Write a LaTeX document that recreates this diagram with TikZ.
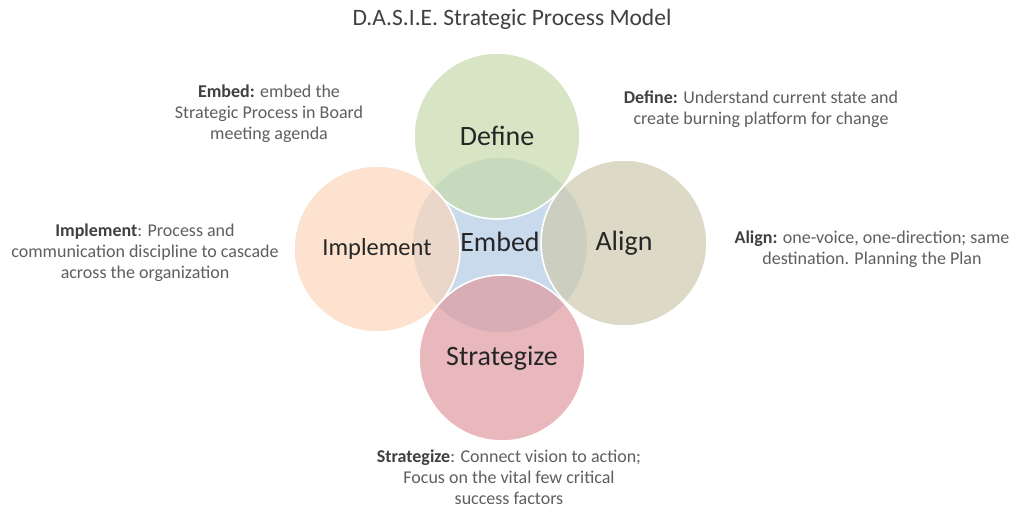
\documentclass[tikz,border=0pt]{standalone}
\usepackage{fontspec}
\setmainfont{Carlito}
\definecolor{embedblue}{RGB}{200,218,235}
\definecolor{definegreen}{RGB}{199,219,171}
\definecolor{implpeach}{RGB}{251,214,188}
\definecolor{alignbeige}{RGB}{206,202,174}
\definecolor{stratpink}{RGB}{224,154,160}
\definecolor{bodygray}{RGB}{95,95,95}
\definecolor{boldgray}{RGB}{64,64,64}
\definecolor{labeldark}{RGB}{38,38,38}
\begin{document}
\begin{tikzpicture}[x=1pt,y=-1pt,
  petal/.style={circle, minimum size=166pt, inner sep=0pt, draw=white, line width=1.6pt,
    fill opacity=0.7, text opacity=1, text=labeldark, font=\fontsize{28}{30}\selectfont},
  hub/.style={circle, minimum size=174pt, inner sep=0pt, fill=embedblue},
  note/.style={align=center, text=bodygray, font=\fontsize{18}{21}\selectfont},
  head/.style={text=boldgray, font=\fontsize{23.5}{26}\selectfont}]
  \useasboundingbox (0,0) rectangle (1026,508);
  \fill[white] (0,0) rectangle (1026,508);

  % title
  \node[head] (title) at (512,19) {D.A.S.I.E. Strategic Process Model};

  % central hub, then the four overlapping circles
  \node[hub] (embed) at (500,245) {};
  \node[text=labeldark, font=\fontsize{28}{30}\selectfont] (embedlbl) at (500,242) {Embed};
  \node[petal, fill=definegreen] (define) at (497,136) {Define};
  \node[petal, fill=implpeach, font=\fontsize{24.5}{28}\selectfont] (implement) at (377,249) {Implement};
  \node[petal, fill=alignbeige] (align) at (624,243) {Align};
  \node[petal, fill=stratpink] (strategize) at (502,358) {Strategize};

  % descriptions
  \node[note] (embednote) at (269,114)
    {\textcolor{boldgray}{\bfseries Embed:} embed the\\Strategic Process in Board\\meeting agenda};
  \node[note] (definenote) at (761,109)
    {\textcolor{boldgray}{\bfseries Define:} Understand current state and\\create burning platform for change};
  \node[note] (implnote) at (145,253)
    {\textcolor{boldgray}{\bfseries Implement}: Process and\\communication discipline to cascade\\across the organization};
  \node[note] (alignnote) at (872,249)
    {\textcolor{boldgray}{\bfseries Align:} one-voice, one-direction; same\\destination. Planning the Plan};
  \node[note] (stratnote) at (509,477)
    {\textcolor{boldgray}{\bfseries Strategize}: Connect vision to action;\\Focus on the vital few critical\\success factors};
\end{tikzpicture}
\end{document}
